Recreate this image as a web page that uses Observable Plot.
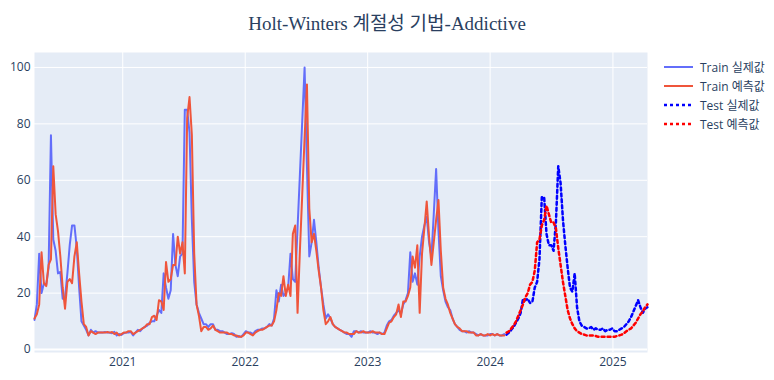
<!DOCTYPE html>
<html><head><meta charset="utf-8">
<script src="https://cdn.jsdelivr.net/npm/d3@7"></script>
<script src="https://cdn.jsdelivr.net/npm/@observablehq/plot@0.6"></script>
<style>
body{margin:0;background:#fff;}
#wrap{position:relative;width:774px;height:380px;overflow:hidden;}
#title{position:absolute;left:0;width:774px;top:8px;text-align:center;font-size:19px;font-family:"Liberation Serif","Noto Sans CJK KR",serif;color:#2a3f5f;white-space:nowrap;}
.leg{position:absolute;left:663px;height:19px;display:flex;align-items:center;font-size:12px;font-family:"Open Sans","Noto Sans CJK KR",sans-serif;color:#2a3f5f;white-space:nowrap;}
.leg svg{margin-right:6px;}
#chart{position:absolute;left:0;top:0;}
</style></head>
<body><div id="wrap"><div id="chart"></div><div id="title">Holt-Winters 계절성 기법-Addictive</div><div id="legend"></div></div>
<script>
const titleText = "Holt-Winters 계절성 기법-Addictive";
const startDate = "2020-04-13"; // first weekly observation
const seriesNames = ["Train 실제값", "Train 예측값", "Test 실제값", "Test 예측값"];
const seriesColors = ["#636efa", "#EF553B", "#0000ff", "#ff0000"];
const seriesDash = [null, null, "3,3", "3,3"];
const yTicks = [0, 20, 40, 60, 80, 100];
const xTickLabels = ["2021", "2022", "2023", "2024", "2025"];

const trainActual = [
10.5,16,34,20,23.5,23,29,76,39,35,
27,27.5,18,18.5,27,37,44,44,36,22,
10,8.5,7,5,7,6,6.5,6,6,6,
6.2,6,6,5.8,6.3,5,5.5,5.2,5.8,6,
6,6.2,5,6,7,6.5,7.5,8,8.5,9.5,
10,10,12,14,13,27,22,18,21,41,
30,26,33,34,85,85,77,46,24,16,
13,11,9,9,8,9,9,7,7,6.5,
6.5,6,5.5,5.5,5.8,5.5,4.5,4.8,4.5,5.5,
6.5,6,6,5.5,6.5,7,7,7.5,7.5,8,
9,8.5,11,21,17,23,19,20,22,34,
25,24,43,62,81,100,65,33,38,46,
38,29,22,16,11,12.5,11,9,8,7.5,
7,6.5,6,5.5,5.5,4.5,6.5,6.5,6,6.5,
6,6,6,6.5,6,6,5.5,6,5.5,6,
8.5,10,10.5,12,13,14,12.5,16,17.5,20,
34.5,24,27,23,33,40,44,47,38,33,
48,64,42,26,21,17,15,14,11,9,
8,7,6.5,6.5,6,6.5,6,6,5.5,5,
5.5,5,5,5,5.5,5.5,5,5.5,5,5,
5.5];

const trainPred = [
11,12.5,16,34.5,23.5,22.5,30,32,65,48,
42,33,22,14.5,24,25,23.5,33,38,27,
17,9,8,5,6.5,6,5.5,6,6,6,
6,6.2,6,6.2,5.5,6,5,5.5,6,6,
6.5,6.5,5.5,6,6.5,7,7.5,8,9,9,
11.5,12,10.5,17.5,17,14,31,24,25,30,
30,40,34,38,27,82,89.5,76,34,16,
12,6.5,8,8,7,7.5,8.5,7,6.5,6,
6,6,6,5.5,5.5,5,5,4.5,4.5,5,
6,6,5.5,5,6,6.5,7,7,7.5,8,
8.5,8.5,10,14,20,19,26,19,23,19,
41,44,13,35,55,75,94,50,38,41,
35,28,22,14,9,10,11.5,9,8,7.5,
7,6.5,6,6,5.5,5.5,5.5,6.5,6,6,
6.5,6,6,6,6.5,6,6,6,5.5,5.5,
7.5,9.5,10,11.5,12.5,16,11.5,17,17,19,
22,33,29,37,13,34,43,52.5,40,30,
38,46,53,35,22,18,16,13,11,9,
8,7.5,6.5,6.5,6.5,6,6,6,5,5,
5.5,5,5,5.5,5,5.5,5,5.5,5,5,
5];

const testActual = [
5.3,6,7,8,9.5,11,13,18,17.5,18,
16.5,17,22,24,32,54,54,41,37,37,
35,45,65,59,46,37,29,22,20.5,27,
15,10,8.5,8,7.5,7.5,8,7,7.5,7,
7,7.5,6.5,7,7,7.5,6.5,6.5,7,7.5,
8,9,10,11.5,13.5,15.5,17.5,15,13,14.5,15];

const testPred = [
6,6.5,7.5,8.5,10,12,14,16,18.5,20,
23,24,28,38,39,44,46,51,48,45,
45,43,36,30,24,19,14,11,9,7.5,
6.5,6,5.5,5.3,5,5,5,5,4.8,4.5,
4.5,4.5,4.5,4.5,4.5,4.5,4.5,4.8,5,5.3,
5.8,6.5,7,7.5,8.5,9.5,11,12.5,13.5,15,16];

const t0 = new Date(startDate + "T00:00:00Z");
const weekDate = i => d3.utcDay.offset(t0, 7 * i);
const train = trainActual.map((v, i) => ({date: weekDate(i), actual: v, pred: trainPred[i]}));
const test = testActual.map((v, i) => ({date: weekDate(trainActual.length + i), actual: v, pred: testPred[i]}));
const yearTicks = xTickLabels.map(y => new Date(Date.UTC(+y, 0, 1)));

const chart = Plot.plot({
  width: 774, height: 380,
  marginLeft: 34, marginRight: 127, marginTop: 52, marginBottom: 28,
  style: {background: "transparent", color: "#2a3f5f", fontFamily: '"Open Sans", sans-serif', fontSize: "12px"},
  x: {type: "utc", domain: [train[0].date, test[test.length - 1].date], ticks: yearTicks,
      tickFormat: d3.utcFormat("%Y"), tickSize: 0, tickPadding: 5, label: null},
  y: {domain: [-1.05, 105.3], ticks: yTicks, tickSize: 0, tickPadding: 4, label: null},
  marks: [
    Plot.frame({fill: "#E5ECF6", stroke: "none"}),
    Plot.ruleY(yTicks, {stroke: "white", strokeWidth: 1}),
    Plot.ruleY([0], {stroke: "white", strokeWidth: 2}),
    Plot.ruleX(yearTicks, {stroke: "white", strokeWidth: 1}),
    Plot.lineY(train, {x: "date", y: "actual", stroke: seriesColors[0], strokeWidth: 2}),
    Plot.lineY(train, {x: "date", y: "pred", stroke: seriesColors[1], strokeWidth: 2}),
    Plot.lineY(test, {x: "date", y: "actual", stroke: seriesColors[2], strokeWidth: 2.5, strokeDasharray: seriesDash[2]}),
    Plot.lineY(test, {x: "date", y: "pred", stroke: seriesColors[3], strokeWidth: 2.5, strokeDasharray: seriesDash[3]})
  ]
});
document.getElementById("chart").appendChild(chart);
document.getElementById("title").textContent = titleText;

const legend = document.getElementById("legend");
seriesNames.forEach((name, i) => {
  const row = document.createElement("div");
  row.className = "leg";
  row.style.top = (57 + i * 19) + "px";
  const dash = seriesDash[i] ? `stroke-dasharray="${seriesDash[i]}"` : "";
  const w = seriesDash[i] ? 2.5 : 2;
  row.innerHTML = `<svg width="31" height="6"><line x1="1" y1="3" x2="30" y2="3" stroke="${seriesColors[i]}" stroke-width="${w}" ${dash}/></svg><span>${name}</span>`;
  legend.appendChild(row);
});
</script>
</body></html>
